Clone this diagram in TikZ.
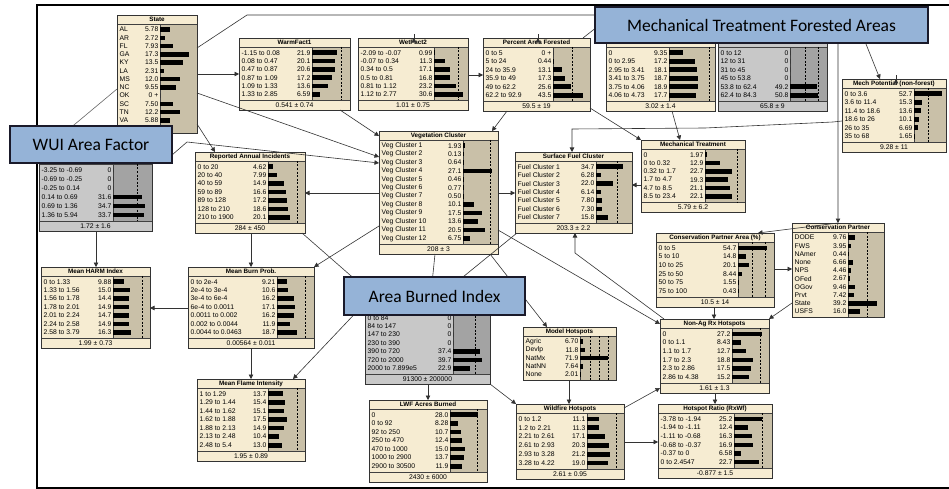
\documentclass[tikz,border=0pt]{standalone}
\usepackage{fontspec}
\setmainfont{Liberation Sans}
\newfontfamily\callfont{Carlito}
\usetikzlibrary{arrows.meta}
\definecolor{tbody}{HTML}{F6ECD2}
\definecolor{tbar}{HTML}{C9C0A8}
\definecolor{gbody}{HTML}{C8C8C8}
\definecolor{gbar}{HTML}{A3A3A3}
\definecolor{callfill}{HTML}{95B3D7}
\definecolor{callline}{HTML}{1A1A2A}
\tikzset{
 bntext/.style={font=\fontsize{6.8}{7}\selectfont, inner sep=0pt},
 bntitle/.style={font=\bfseries\fontsize{6.3}{7}\selectfont, inner sep=0pt},
 bnline/.style={draw=black!75, line width=0.5pt},
 bnborder/.style={draw=black!80, line width=0.8pt},
 bndash/.style={draw=black, line width=0.6pt, dash pattern=on 2pt off 1.5pt},
 arr/.style={draw=black!80, line width=0.6pt, -{Triangle[length=4.5pt,width=4.5pt]}},
 lin/.style={draw=black!60, line width=0.6pt},
 callout/.style={draw=callline, line width=1.3pt, fill=callfill, font=\callfont\fontsize{17.5}{20}\selectfont, inner sep=0pt},
 frame/.style={draw=black, line width=2pt},
}
\pgfkeys{/tikz/bn/.cd,
 grey/.code={\def\bnbody{gbody}\def\bnbar{gbar}\def\bntitlec{gbody}},
 dl/.store in=\bndl,
 sc/.store in=\bnsc,
 bx/.store in=\bnbx,
 rb/.store in=\bnrb,
 n/.store in=\bnn}
% #2 id, #3 x1, #4 y1, #5 x2, #6 y2, #7 title, #8 mean, #9 rows
\newcommand\bnode[9][]{%
 \begingroup
 \def\bnbody{tbody}\def\bnbar{tbar}\def\bntitlec{tbody}\def\bndl{}\def\bnsc{1}\def\bnbx{#5}\def\bnn{6}\def\bnrb{}%
 \pgfkeys{/tikz/bn/.cd,#1}%
 \pgfmathsetmacro\bnth{#4+9}%
 \def\bnmean{#8}%
 \ifx\bnmean\empty\pgfmathsetmacro\bnmb{#6}\else\pgfmathsetmacro\bnmb{#6-10}\fi
 \ifx\bnrb\empty\let\bnrows\bnmb\else\let\bnrows\bnrb\fi
 \node[inner sep=0pt,outer sep=0pt,minimum width={(#5-#3)*1pt},minimum height={(#6-#4)*1pt}] (#2) at ({(#3+#5)/2},{(#4+#6)/2}) {};
 \fill[\bnbody] (#3,#4) rectangle (#5,#6);
 \fill[\bntitlec] (#3,#4) rectangle (#5,\bnth);
 \fill[\bnbar] (\bnbx,\bnth) rectangle (#5,\bnmb);
 \draw[bnline] (#3,\bnth) -- (#5,\bnth);
 \draw[bnline] (\bnbx,\bnth) -- (\bnbx,\bnmb);
 \ifx\bnmean\empty\else
  \draw[bnline] (#3,\bnmb) -- (#5,\bnmb);
  \node[bntext] at ({(#3+#5)/2},{(\bnmb+#6)/2}) {#8};
 \fi
 \node[bntitle] at ({(#3+#5)/2},{(#4+\bnth)/2}) {#7};
 \ifx\bndl\empty\else
  \foreach \d in \bndl {\draw[bndash] (\d,\bnth) -- (\d,\bnmb);}
 \fi
 \pgfmathsetmacro\bnsp{(\bnrows-\bnth-3)/\bnn}
 \foreach \lab/\val/\num [count=\i] in {#9} {
  \pgfmathsetmacro\yc{\bnth+1.5+(\i-0.5)*\bnsp}
  \node[bntext,anchor=west] at (#3+2.5,\yc) {\lab};
  \node[bntext,anchor=east] at (\bnbx-1.5,\yc) {\val};
  \pgfmathsetmacro\bl{\num*\bnsc}
  \fill (\bnbx,\yc-2.3) rectangle ++(\bl,4.6);
 }
 \draw[bnborder] (#3,#4) rectangle (#5,#6);
 \endgroup
}
\begin{document}
\begin{tikzpicture}[x=1pt,y=-1pt]
\useasboundingbox (0,0) rectangle (949,489);
\fill[white] (0,0) rectangle (949,489);
% frame
\draw[frame] (949,5) -- (37,5) -- (37,488) -- (949,488);

% ---------- nodes ----------
\bnode[bx=160,n=12,sc=1.68,rb=126]{state}{117}{15}{197}{133}{State}{}{AL/5.78/5.78, AR/2.72/2.72, FL/7.93/7.93, GA/17.3/17.3, KY/13.5/13.5, LA/2.31/2.31, MS/12.0/12.0, NC/9.55/9.55, OK/0 +/0, SC/7.50/7.50, TN/12.2/12.2, VA/5.88/5.88}
\bnode[bx=312,sc=1.14,dl={341}]{warm}{239}{38}{350}{110}{WarmFact1}{0.541 ± 0.74}{-1.15 to 0.08/21.9/21.9, 0.08 to 0.47/20.1/20.1, 0.47 to 0.87/20.6/20.6, 0.87 to 1.09/17.2/17.2, 1.09 to 1.33/13.6/13.6, 1.33 to 2.85/6.59/6.59}
\bnode[bx=434,sc=0.95,dl={458}]{wet}{358}{38}{468}{110}{WetFact2}{1.01 ± 0.75}{-2.09 to -0.07/0.99/0.99, -0.07 to 0.34/11.3/11.3, 0.34 to 0.5/17.1/17.1, 0.5 to 0.81/16.8/16.8, 0.81 to 1.12/23.2/23.2, 1.12 to 2.77/30.6/30.6}
\bnode[bx=553,sc=0.69,dl={572}]{pct}{483}{38}{590}{111}{Percent Area Forested}{59.5 ± 19}{0 to 5/0 +/0, 5 to 24/0.44/0.44, 24 to 35.9/13.1/13.1, 35.9 to 49/17.3/17.3, 49 to 62.2/25.6/25.6, 62.2 to 92.9/43.5/43.5}
\bnode[bx=669,sc=1.53,dl={709}]{hidfive}{606}{38}{715}{111}{}{3.02 ± 1.4}{0/9.35/9.35, 0 to 2.95/17.2/17.2, 2.95 to 3.41/18.1/18.1, 3.41 to 3.75/18.7/18.7, 3.75 to 4.06/18.9/18.9, 4.06 to 4.73/17.7/17.7}
\bnode[grey,bx=790,sc=0.55,dl={805,818}]{hidsix}{718}{38}{827}{111}{}{65.8 ± 9}{0 to 12/0/0, 12 to 31/0/0, 31 to 45/0/0, 45 to 53.8/0/0, 53.8 to 62.4/49.2/49.2, 62.4 to 84.3/50.8/50.8}
\bnode[bx=914,sc=0.53,dl={928}]{mechpot}{842}{79}{946}{152}{Mech Potential (non-forest)}{9.28 ± 11}{0 to 3.6/52.7/52.7, 3.6 to 11.4/15.3/15.3, 11.4 to 18.6/13.6/13.6, 18.6 to 26/10.1/10.1, 26 to 35/6.69/6.69, 35 to 68/1.65/1.65}
\bnode[bx=463,sc=1.07,dl={490},n=12]{veg}{379}{131}{498}{254}{Vegetation Cluster}{208 ± 3}{Veg Cluster 1/1.93/1.93, Veg Cluster 2/0.13/0.13, Veg Cluster 3/0.64/0.64, Veg Cluster 4/27.1/27.1, Veg Cluster 5/0.46/0.46, Veg Cluster 6/0.77/0.77, Veg Cluster 7/0.50/0.50, Veg Cluster 8/10.1/10.1, Veg Cluster 9/17.5/17.5, Veg Cluster 10/13.6/13.6, Veg Cluster 11/20.5/20.5, Veg Cluster 12/6.75/6.75}
\bnode[bx=268,sc=1.1,dl={297},n=7]{rai}{195}{152}{305}{233}{Reported Annual Incidents}{284 ± 450}{0 to 20/4.62/4.62, 20 to 40/7.99/7.99, 40 to 59/14.9/14.9, 59 to 89/16.6/16.6, 89 to 128/17.2/17.2, 128 to 210/18.6/18.6, 210 to 1900/20.1/20.1}
\bnode[grey,bx=113,sc=0.92,dl={137}]{wui}{39}{155}{152}{231}{}{1.72 ± 1.6}{-3.25 to -0.69/0/0, -0.69 to -0.25/0/0, -0.25 to 0.14/0/0, 0.14 to 0.69/31.6/31.6, 0.69 to 1.36/34.7/34.7, 1.36 to 5.94/33.7/33.7}
\bnode[bx=113,sc=1.1,dl={142},n=7]{harm}{41}{267}{150}{348}{Mean HARM Index}{1.99 ± 0.73}{0 to 1.33/9.88/9.88, 1.33 to 1.56/15.0/15.0, 1.56 to 1.78/14.4/14.4, 1.78 to 2.01/14.9/14.9, 2.01 to 2.24/14.7/14.7, 2.24 to 2.58/14.9/14.9, 2.58 to 3.79/16.3/16.3}
\bnode[bx=277,sc=1.07,dl={305},n=7]{mbp}{188}{267}{314}{348}{Mean Burn Prob.}{0.00564 ± 0.011}{0 to 2e-4/9.21/9.21, 2e-4 to 3e-4/10.6/10.6, 3e-4 to 6e-4/16.2/16.2, 6e-4 to 0.0011/17.1/17.1, 0.0011 to 0.002/16.2/16.2, 0.002 to 0.0044/11.9/11.9, 0.0044 to 0.0463/18.7/18.7}
\bnode[grey,bx=453,sc=0.73,dl={475},n=7]{abi}{365}{303}{490}{384}{}{91300 ± 200000}{0 to 84/0/0, 84 to 147/0/0, 147 to 230/0/0, 230 to 390/0/0, 390 to 720/37.4/37.4, 720 to 2000/39.7/39.7, 2000 to 7.899e5/22.9/22.9}
\bnode[bx=268,sc=1.09,dl={297},n=7]{mfi}{197}{379}{305}{461}{Mean Flame Intensity}{1.95 ± 0.89}{1 to 1.29/13.7/13.7, 1.29 to 1.44/15.4/15.4, 1.44 to 1.62/15.1/15.1, 1.62 to 1.88/17.5/17.5, 1.88 to 2.13/14.9/14.9, 2.13 to 2.48/10.4/10.4, 2.48 to 5.4/13.0/13.0}
\bnode[bx=450,sc=1.0,dl={477},n=7]{lwf}{369}{400}{487}{482}{LWF Acres Burned}{2430 ± 6000}{0/28.0/28.0, 0 to 92/8.28/8.28, 92 to 250/10.7/10.7, 250 to 470/12.4/12.4, 470 to 1000/15.0/15.0, 1000 to 2900/13.7/13.7, 2900 to 30500/11.9/11.9}
\bnode[bx=580,sc=0.39,dl={590,599,608},n=5]{model}{523}{327}{616}{380}{Model Hotspots}{}{Agric/6.70/6.70, Devlp/11.8/11.8, NatMx/71.9/71.9, NatNN/7.64/7.64, None/2.01/2.01}
\bnode[bx=587,sc=1.08,dl={616}]{wfh}{516}{404}{624}{479}{Wildfire Hotspots}{2.61 ± 0.95}{0 to 1.2/11.1/11.1, 1.2 to 2.21/11.3/11.3, 2.21 to 2.61/17.1/17.1, 2.61 to 2.93/20.3/20.3, 2.93 to 3.28/21.2/21.2, 3.28 to 4.22/19.0/19.0}
\bnode[bx=734,sc=1.1,dl={762}]{hsr}{658}{404}{772}{478}{Hotspot Ratio (RxWf)}{-0.877 ± 1.5}{-3.78 to -1.94/25.2/25.2, -1.94 to -1.11/12.4/12.4, -1.11 to -0.68/16.3/16.3, -0.68 to -0.37/16.9/16.9, -0.37 to 0/6.58/6.58, 0 to 2.4547/22.7/22.7}
\bnode[bx=732,sc=1.1,dl={760}]{nonag}{660}{319}{769}{393}{Non-Ag Rx Hotspots}{1.61 ± 1.3}{0/27.2/27.2, 0 to 1.1/8.43/8.43, 1.1 to 1.7/12.7/12.7, 1.7 to 2.3/18.8/18.8, 2.3 to 2.86/17.5/17.5, 2.86 to 4.38/15.2/15.2}
\bnode[bx=738,sc=0.53,dl={752,765}]{cpa}{656}{233}{774}{307}{Conservation Partner Area (\%)}{10.5 ± 14}{0 to 5/54.7/54.7, 5 to 10/14.8/14.8, 10 to 25/20.1/20.1, 25 to 50/8.44/8.44, 50 to 75/1.55/1.55, 75 to 100/0.43/0.43}
\bnode[bx=848,sc=0.74,dl={867},n=10]{cp}{792}{223}{884}{317}{Conservation Partner}{}{DODE/9.76/9.76, FWS/3.95/3.95, NAmer/0.44/0.44, None/6.66/6.66, NPS/4.46/4.46, OFed/2.67/2.67, OGov/9.46/9.46, Prvt/7.42/7.42, State/39.2/39.2, USFS/16.0/16.0}
\bnode[bx=596,sc=0.78,dl={617},n=7]{sfc}{515}{152}{632}{233}{Surface Fuel Cluster}{203.3 ± 2.2}{Fuel Cluster 1/34.7/34.7, Fuel Cluster 2/6.28/6.28, Fuel Cluster 3/22.0/22.0, Fuel Cluster 4/6.14/6.14, Fuel Cluster 5/7.80/7.80, Fuel Cluster 6/7.30/7.30, Fuel Cluster 7/15.8/15.8}
\bnode[bx=705,sc=1.2,dl={737}]{mt}{641}{140}{745}{212}{Mechanical Treatment}{5.79 ± 6.2}{0/1.97/1.97, 0 to 0.32/12.9/12.9, 0.32 to 1.7/22.7/22.7, 1.7 to 4.7/19.3/19.3, 4.7 to 8.5/21.1/21.1, 8.5 to 23.4/22.1/22.1}

% ---------- connectors ----------
\coordinate (busA) at (247,15);
\coordinate (busB) at (838,15);
\draw[arr] (state.east |- warm.west) -- (warm.west);
\draw[arr] (state.east |- 0,124) -- (rai.north -| 215,0);
\draw[arr] (state.east |- 0,48) -- (busA) -- (busB) -- (cp.north -| busB);
\draw[arr] (wet.north -| 414,15) -- (wet.north -| 414,0);
\draw[arr] (pct.north -| 538,15) -- (pct.north -| 538,0);
\draw[arr] (cp.north -| 838,157) -- (cpa.north -| 758,0);
\draw[arr] (mechpot.north -| 896,15) -- (mechpot.north -| 896,0);
\draw[arr] (pct.north -| 583,0) -- (597,27) -- (862,34) -- (mechpot.north -| 880,0);
\draw[arr] (state.east |- 0,93) -- (veg.west |- 0,157);
\draw[arr] (warm.south -| 340,0) -- (veg.west |- 0,136);
\draw[arr] (veg.west |- 0,193) -- (rai.east |- 0,193);
\draw[arr] (wet.east |- 0,75) -- (pct.west |- 0,75);
\draw[arr] (pct.south -| 507,0) -- (veg.north -| 492,0);
\draw[arr] (pct.east |- 0,108) -- (mt.north west);
\draw[arr] (hidfive.south -| 672,0) -- (mt.north -| 680,0);
\draw[arr] (mechpot.west |- 0,121) -- (833,122) -- (705,128) -- (572,129) -- (sfc.north -| 572,0);
\draw[arr] (mt.west |- 0,185) -- (sfc.east |- 0,185);
\draw[arr] (veg.east |- 0,193) -- (sfc.west |- 0,193);
\draw[arr] (nonag.north -| 664,0) -- (575,253) -- (sfc.south -| 575,0);
\draw[arr] (veg.east |- 0,230) -- (nonag.west |- 0,324);
\draw[arr] (veg.west |- 0,226) -- (mbp.north east);
\draw[arr] (rai.south -| 251,0) -- (mbp.north -| 251,0);
\draw[arr] (mbp.west |- 0,308) -- (harm.east |- 0,308);
\draw[arr] (wui.south -| 96,0) -- (harm.north -| 96,0);
\draw[arr] (mbp.south -| 251,0) -- (mfi.north -| 251,0);
\draw[arr] (abi.south -| 428,0) -- (lwf.north -| 428,0);
\draw[arr] (abi.south east) -- (wfh.north west);
\draw[arr] (model.south -| 569,0) -- (wfh.north -| 569,0);
\draw[arr] (wfh.east |- 0,442) -- (hsr.west |- 0,442);
\draw[arr] (wfh.east |- 0,408) -- (nonag.west |- 0,388);
\draw[arr] (nonag.south -| 715,0) -- (hsr.north -| 715,0);
\draw[arr] (cpa.south -| 714,0) -- (nonag.north -| 714,0);
\draw[arr] (cpa.east |- 0,269) -- (cp.west |- 0,269);
\draw[arr] (cp.west |- 0,303) -- (nonag.north east);
\draw[arr] (veg.south -| 435,0) -- (abi.north -| 430,0);
\draw[arr] (rai.south -| 302,0) -- (abi.north -| 382,0);
\draw[arr] (veg.south -| 490,0) -- (model.north -| 547,0);
\draw[arr] (sfc.south -| 517,0) -- (abi.north -| 431,0);
\draw[arr] (abi.north west) -- (mfi.north -| 293,0);
\draw[lin] (wui.north -| 38,125) -- (state.west |- 0,89);
\draw[arr] (wui.north -| 172,147) -- (187,142) -- (veg.west |- 0,163);

% ---------- callouts ----------
\node[callout, minimum width=162pt, minimum height=37pt] (wuic) at (91,144.5) {WUI Area Factor};
\node[callout, minimum width=333pt, minimum height=36pt] (mtfa) at (761.5,25) {Mechanical Treatment Forested Areas};
\node[callout, minimum width=181pt, minimum height=38pt] (abic) at (434.5,296) {Area Burned Index};
\end{tikzpicture}
\end{document}
